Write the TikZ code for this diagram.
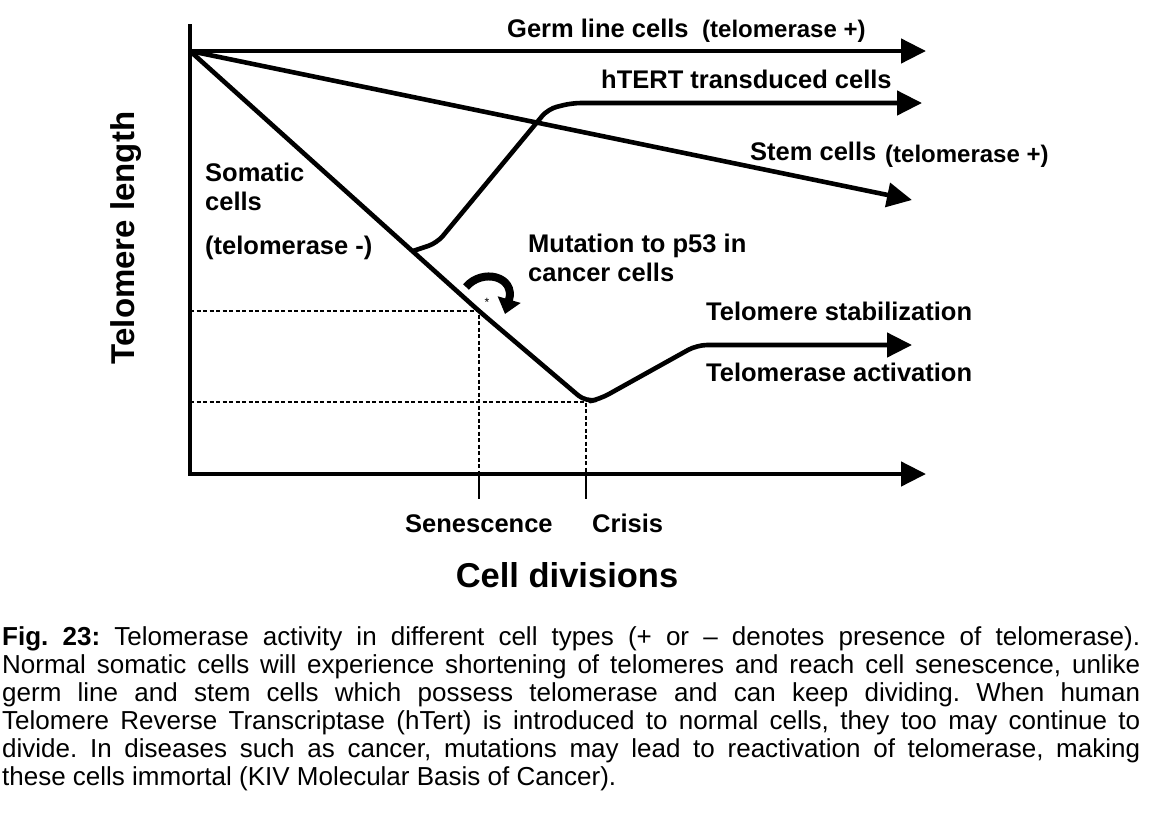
\documentclass[tikz,border=0pt]{standalone}
\usepackage{fontspec}
\setmainfont{Liberation Sans}
\usetikzlibrary{arrows.meta}
\begin{document}
\begin{tikzpicture}[x=1pt,y=-1pt,
  curve/.style={line width=4.6pt, line join=round},
  tipped/.style={-{Triangle[length=25pt,width=24pt]}},
  guide/.style={line width=1.1pt, dash pattern=on 4pt off 2.5pt},
  tick/.style={line width=1.6pt},
  lbl/.style={font=\fontsize{25.5}{28}\selectfont\bfseries, anchor=base west, inner sep=0pt},
  plbl/.style={font=\fontsize{24}{28}\selectfont\bfseries, anchor=base west, inner sep=0pt}]
\useasboundingbox (0,0) rectangle (1170,817);
\clip (0,0) rectangle (1170,817);

% key points
\coordinate (ytop) at (190,24);
\coordinate (O) at (190,474);
\coordinate (xend) at (926,474);
\coordinate (start) at (190,51);
\coordinate (germend) at (926,51);
\coordinate (stemend) at (912,200);
\coordinate (branch) at (413,251);
\coordinate (h1) at (437,243);
\coordinate (h2) at (548,109);
\coordinate (h3) at (572,103);
\coordinate (hend) at (922,103);
\coordinate (sen) at (479,311);
\coordinate (crisis) at (586,402);
\coordinate (c1) at (600,399);
\coordinate (c2) at (697,345);
\coordinate (cend) at (912,345);
\coordinate (senL) at (190,311);
\coordinate (crisisL) at (190,402);
\coordinate (senX) at (479,474);
\coordinate (crisisX) at (586,474);
\coordinate (senT) at (479,499);
\coordinate (crisisT) at (586,499);
\coordinate (mutA) at (466,287);
\coordinate (mutB) at (505,314);

% guides
\draw[guide] (senL) -- (sen) -- (senX);
\draw[guide] (crisisL) -- (crisis) -- (crisisX);
\draw[tick] (senX) -- (senT);
\draw[tick] (crisisX) -- (crisisT);

% axes
\draw[curve, tipped, line join=miter] (ytop) -- (O) -- (xend);

% curves
\draw[curve, tipped] (start) -- (germend);
\draw[curve, tipped] (start) -- (stemend);
\draw[curve, tipped, rounded corners=9pt] (branch) -- (h1) -- (h2) -- (h3) -- (hend);
\draw[curve, tipped, rounded corners=10pt] (start) -- (sen) -- (crisis) -- (c1) -- (c2) -- (cend);

% mutation arrow
\draw[line width=8pt, -{Triangle[length=15pt,width=23pt]}] (mutA) .. controls (482,268) and (516,276) .. (mutB);
\node[font=\fontsize{12}{12}\selectfont, inner sep=0pt] (ast) at (487,302) {*};

% labels
\node[lbl] (germ) at (507,37) {Germ line cells};
\node[plbl] (germp) at (702,37) {(telomerase +)};
\node[lbl] (htert) at (601,88) {hTERT transduced cells};
\node[lbl] (stem) at (750,160) {Stem cells};
\node[plbl] (stemp) at (885,162) {(telomerase +)};
\node[lbl] (som1) at (205,181) {Somatic};
\node[lbl] (som2) at (205,210) {cells};
\node[lbl] (som3) at (205,254) {(telomerase -)};
\node[lbl] (mut1) at (528,252) {Mutation to p53 in};
\node[lbl] (mut2) at (528,281) {cancer cells};
\node[lbl] (stab) at (706,320) {Telomere stabilization};
\node[lbl] (act) at (706,381) {Telomerase activation};
\node[lbl] (senlab) at (405,532) {Senescence};
\node[lbl] (crislab) at (592,532) {Crisis};
\node[font=\fontsize{34.5}{38}\selectfont\bfseries, anchor=base, inner sep=0pt] (xlab) at (567,587) {Cell divisions};
\node[font=\fontsize{33}{36}\selectfont\bfseries, rotate=90, inner sep=0pt] (ylab) at (126,238) {Telomere length};

% caption
\node[anchor=north west, inner sep=0pt, text width=1138pt, align=justify,
      font=\fontsize{26}{28}\selectfont] (cap) at (2,626)
{\frenchspacing\textbf{Fig. 23:} Telomerase activity in different cell types (+ or – denotes presence of telomerase).\linebreak
Normal somatic cells will experience shortening of telomeres and reach cell senescence, unlike\linebreak
germ line and stem cells which possess telomerase and can keep dividing. When human\linebreak
Telomere Reverse Transcriptase (hTert) is introduced to normal cells, they too may continue to\linebreak
divide. In diseases such as cancer, mutations may lead to reactivation of telomerase, making\linebreak
these cells immortal (KIV Molecular Basis of Cancer).};
\end{tikzpicture}
\end{document}
